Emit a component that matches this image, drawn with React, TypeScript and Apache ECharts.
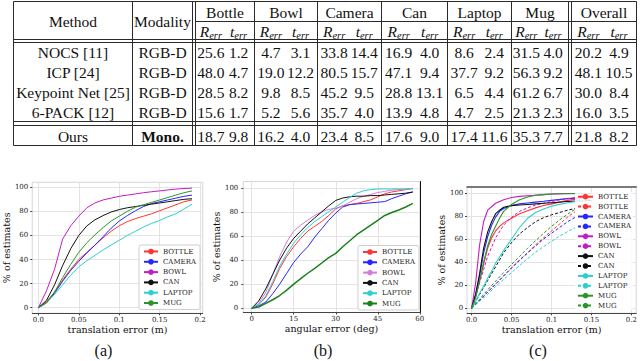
import React, { useEffect, useRef } from "react";
import * as echarts from "echarts";

// ---------------- Table data ----------------
const categories = ["Bottle", "Bowl", "Camera", "Can", "Laptop", "Mug"];
const overallLabel = "Overall";
const methods = ["NOCS [11]", "ICP [24]", "Keypoint Net [25]", "6-PACK [12]"];
const modalities = ["RGB-D", "RGB-D", "RGB-D", "RGB-D"];
const nocsVals = [25.6, 1.2, 4.7, 3.1, 33.8, 14.4, 16.9, 4.0, 8.6, 2.4, 31.5, 4.0, 20.2, 4.9];
const icpVals = [48.0, 4.7, 19.0, 12.2, 80.5, 15.7, 47.1, 9.4, 37.7, 9.2, 56.3, 9.2, 48.1, 10.5];
const keypointVals = [28.5, 8.2, 9.8, 8.5, 45.2, 9.5, 28.8, 13.1, 6.5, 4.4, 61.2, 6.7, 30.0, 8.4];
const sixPackVals = [15.6, 1.7, 5.2, 5.6, 35.7, 4.0, 13.9, 4.8, 4.7, 2.5, 21.3, 2.3, 16.0, 3.5];
const oursLabel = "Ours";
const oursModality = "Mono.";
const oursVals = [18.7, 9.8, 16.2, 4.0, 23.4, 8.5, 17.6, 9.0, 17.4, 11.6, 35.3, 7.7, 21.8, 8.2];
const methodRows = [nocsVals, icpVals, keypointVals, sixPackVals];

// ---------------- Chart data ----------------
const objNames = ["BOTTLE", "CAMERA", "BOWL", "CAN", "LAPTOP", "MUG"];

// (a) translation error
const xA = [0, 0.01, 0.02, 0.03, 0.04, 0.05, 0.06, 0.07, 0.08, 0.09, 0.1, 0.11, 0.12, 0.13, 0.14, 0.15, 0.16, 0.17, 0.18, 0.19];
const aBottle = [0, 5, 13, 23, 32, 40, 46, 52, 58, 63.5, 68, 71.5, 74, 76, 78, 80.5, 83, 85.5, 88, 89.5];
const aCamera = [0, 4, 12, 22, 31, 38.5, 45.5, 52, 59, 66, 72, 76.5, 80.5, 84, 86.5, 88, 89.5, 91, 92.5, 93.5];
const aBowl = [0, 14, 32, 57, 68, 76, 83, 87, 89.5, 91, 92.5, 93.5, 94.5, 95.5, 96.3, 97, 97.8, 98.5, 99, 99.3];
const aCan = [0, 6, 19, 35, 49, 60, 68, 73, 76.5, 79.5, 81.5, 83, 84, 85, 86, 87, 88, 89, 90, 90.5];
const aLaptop = [0, 4, 11, 19, 27, 34, 39, 43.5, 48, 52, 56, 60, 63.5, 67, 70, 72.5, 75.5, 78, 82, 86];
const aMug = [0, 4, 13, 25, 36, 46, 54, 60.5, 66.5, 72, 76, 80, 83.5, 85.5, 87.5, 89.5, 91.5, 93.5, 95.5, 97];

// (b) angular error
const xB = [0, 2.5, 5, 7.5, 10, 12.5, 15, 17.5, 20, 22.5, 25, 27.5, 30, 32.5, 35, 37.5, 40, 42.5, 45, 47.5, 50, 52.5, 55, 57.5];
const bBottle = [0, 3, 9, 20, 33, 43, 51, 58, 64, 68, 72, 77, 82.5, 85, 86, 87, 88.5, 90, 92.5, 95, 96.5, 97.5, 98.5, 99.5];
const bCamera = [0, 2, 5, 12, 20, 29, 38, 45, 51, 59, 66, 73, 79, 84, 86, 86.5, 87, 87.5, 88, 88.5, 91, 93, 95, 96.5];
const bBowl = [0, 4, 13, 28, 43, 55, 64, 69, 73, 77, 80, 82, 83, 85, 88, 91, 93, 94.5, 96, 97, 98, 98.5, 99, 99.5];
const bCan = [0, 6, 16, 28, 40, 50, 58, 64, 70, 75, 80, 85, 89.5, 91.5, 92.5, 93, 93, 93.5, 93.5, 94, 94.5, 95, 95.5, 96.5];
const bLaptop = [0, 3, 10, 22, 35, 45, 54, 61, 67, 72, 76, 80, 84, 88, 92, 95.5, 97.5, 98.5, 99, 99, 99, 99, 99, 99];
const bMug = [0, 1, 4, 7, 10.5, 15, 20, 24.5, 29, 33, 37.5, 42, 45.5, 51, 56, 61, 65, 69, 73, 77, 79.5, 81.5, 84, 87];

// (c) translation error, solid and dashed variants
const xCs = [0, 0.005, 0.01, 0.015, 0.02, 0.025, 0.03, 0.035, 0.04, 0.05, 0.06, 0.07, 0.08, 0.09, 0.1, 0.12, 0.15];
const cBottleS = [0, 10, 24, 38, 52, 61, 67, 71, 74, 78, 82, 84.5, 87, 89, 90.5, 93.5, 96.5];
const cCameraS = [0, 12, 28, 48, 62, 72, 79, 84, 86.5, 89, 90.5, 91.3, 92, 92.7, 93.5, 95, 96.5];
const cBowlS = [0, 22, 55, 75, 85, 88, 91, 92.5, 94, 96, 97, 97.5, 98, 98.5, 99, 99.5, 99.5];
const cCanS = [0, 12, 30, 52, 66, 75, 82, 85, 87.5, 89, 89.5, 90, 90.5, 91, 91.5, 92.5, 93.5];
const cLaptopS = [0, 6, 13, 19, 26, 32, 39, 44.5, 50, 60, 70, 78, 83, 86, 88.5, 91.5, 94.5];
const cMugS = [0, 9, 24, 40, 54, 64, 71, 78, 84, 90, 94, 96.5, 98, 98.5, 99, 99.3, 99.5];
const xCd = [0, 0.01, 0.02, 0.03, 0.04, 0.05, 0.06, 0.07, 0.08, 0.09, 0.1, 0.11, 0.12, 0.13];
const cBottleD = [0, 7, 14, 21, 28, 35, 42, 48, 55, 61, 67, 73, 79, 84];
const cCameraD = [0, 7, 14, 21, 28, 35, 41.5, 48, 54, 60, 65, 70, 75, 79];
const cBowlD = [0, 22, 45, 61, 72, 79, 84, 87, 89.5, 91, 92.5, 94, 95, 96];
const cCanD = [0, 12, 24, 36, 48, 57, 64.5, 70, 75, 78.5, 81, 83, 85, 86.5];
const cLaptopD = [0, 6, 12, 19, 25, 31, 37, 43, 48.5, 53.5, 58, 62.5, 66.5, 70];
const cMugD = [0, 8, 16, 23.5, 31, 38, 45, 52, 58.5, 65, 71, 76.5, 81.5, 86];

// tick labels
const xTicksA = [0, 0.05, 0.1, 0.15, 0.2];
const xTickLabelsA = ["0.0", "0.05", "0.1", "0.15", "0.2"];
const xTicksB = [0, 15, 30, 45, 60];
const xTickLabelsB = ["0", "15", "30", "45", "60"];
const yTicks = [0, 20, 40, 60, 80, 100];
const yTickLabels = ["0", "20", "40", "60", "80", "100"];
const panelLabels = ["(a)", "(b)", "(c)"];

// ---------------- styles ----------------
const SERIF = "'Liberation Serif', 'Times New Roman', serif";
const PLOTFONT = "'DejaVu Serif', serif";
const colorsA: Record<string, string> = {
  BOTTLE: "#ff3535",
  CAMERA: "#2626ff",
  BOWL: "#c41cc4",
  CAN: "#111111",
  LAPTOP: "#2ccfcf",
  MUG: "#2a962a",
};
const colorsB: Record<string, string> = { ...colorsA, BOWL: "#d57cdd", MUG: "#1c801c" };

function labelFmt(ticks: number[], labels: string[]) {
  return (v: number) => {
    const i = ticks.findIndex((t) => Math.abs(t - v) < 1e-9);
    return i >= 0 ? labels[i] : "";
  };
}

function buildTable(): any[] {
  const els: any[] = [];
  const stroke = "#2a2a2a";
  const hl = (x1: number, x2: number, y: number) =>
    els.push({ type: "line", shape: { x1, y1: y, x2, y2: y }, style: { stroke, lineWidth: 1 } });
  const vl = (x: number, y1: number, y2: number) =>
    els.push({ type: "line", shape: { x1: x, y1, x2: x, y2 }, style: { stroke, lineWidth: 1 } });
  const txt = (s: string, x: number, y: number, extra: any = {}) =>
    els.push({
      type: "text",
      style: { text: s, x, y, align: "center", verticalAlign: "middle", fontFamily: SERIF, fontSize: 15.5, fill: "#111", ...extra },
    });

  const left = 13.5, right = 636.5;
  const colMethodEnd = 132.5;
  const dbl1 = [192.5, 195.5];
  const catEdges = [195.5, 254.5, 317.5, 381.5, 447.5, 511.5, 568.5];
  const dbl2 = [568.5, 571.5];
  const overallEdges = [571.5, 636.5];
  const yTop = 1.5, yMid = 21.5, yHeadBot = 39.5, yDataTop = 42.5, yDataBot = 121.5, yOursTop = 125.5, yOursBot = 145.5;

  // horizontal rules
  hl(left, right, yTop);
  hl(dbl1[1], right, yMid);
  hl(left, right, yHeadBot);
  hl(left, right, yDataTop);
  hl(left, right, yDataBot);
  hl(left, right, yOursTop);
  hl(left, right, yOursBot);
  // vertical rules
  [left, colMethodEnd, dbl1[0], ...catEdges, dbl2[1], right].forEach((x) => vl(x, yTop, yOursBot));

  // header
  txt("Method", (left + colMethodEnd) / 2, (yTop + yHeadBot) / 2 + 0.5);
  txt("Modality", (colMethodEnd + dbl1[0]) / 2, (yTop + yHeadBot) / 2 + 0.5);
  const colSpans: [number, number][] = [];
  for (let i = 0; i < categories.length; i++) colSpans.push([catEdges[i], catEdges[i + 1]]);
  colSpans.push([overallEdges[0], overallEdges[1]]);
  const heads = [...categories, overallLabel];
  const rich = {
    m: { fontFamily: SERIF, fontSize: 15.5, fontStyle: "italic", lineHeight: 18, verticalAlign: "middle", fill: "#111" },
    s: { fontFamily: SERIF, fontSize: 10.5, fontStyle: "italic", lineHeight: 10, verticalAlign: "bottom", fill: "#111" },
  };
  colSpans.forEach(([a, b], i) => {
    const w = b - a;
    txt(heads[i], (a + b) / 2, (yTop + yMid) / 2 + 1);
    els.push({ type: "text", style: { text: "{m|R}{s|err}", rich, x: a + w * 0.26, y: (yMid + yHeadBot) / 2 + 1, align: "center", verticalAlign: "middle" } });
    els.push({ type: "text", style: { text: "{m|t}{s|err}", rich, x: a + w * 0.73, y: (yMid + yHeadBot) / 2 + 1, align: "center", verticalAlign: "middle" } });
  });

  const rowH = (yDataBot - yDataTop) / methods.length;
  const drawRow = (name: string, mod: string, vals: number[], y: number, bold: boolean) => {
    txt(name, (left + colMethodEnd) / 2, y);
    txt(mod, (colMethodEnd + dbl1[0]) / 2, y, bold ? { fontWeight: "bold" } : {});
    colSpans.forEach(([a, b], i) => {
      const w = b - a;
      txt(vals[2 * i].toFixed(1), a + w * 0.26, y);
      txt(vals[2 * i + 1].toFixed(1), a + w * 0.73, y);
    });
  };
  methods.forEach((m, r) => drawRow(m, modalities[r], methodRows[r], yDataTop + rowH * (r + 0.5) + 0.5, false));
  drawRow(oursLabel, oursModality, oursVals, (yOursTop + yOursBot) / 2 + 0.5, true);

  // panel labels
  const px = [103.5, 323, 538];
  panelLabels.forEach((l, i) =>
    els.push({ type: "text", style: { text: l, x: px[i], y: 350, align: "center", verticalAlign: "middle", fontFamily: SERIF, fontSize: 16, fill: "#111" } })
  );
  return els;
}

const zip = (xs: number[], ys: number[]) => xs.map((x, i) => [x, ys[i]]);

export default function App() {
  const ref = useRef<HTMLDivElement>(null);
  useEffect(() => {
    if (!ref.current) return;
    const chart = echarts.init(ref.current, undefined, { renderer: "svg" });

    const tickLabelStyle = { fontFamily: PLOTFONT, fontSize: 7, color: "#222" };
    const nameStyle = { fontFamily: PLOTFONT, fontSize: 9.5, color: "#111" };
    const gridLine = { show: true, lineStyle: { color: "#e3e3e3", width: 1 } };

    const mkX = (gi: number, min: number, max: number, ticks: number[], labels: string[], name: string, gap: number) => ({
      type: "value",
      gridIndex: gi,
      min,
      max,
      name,
      nameLocation: "middle",
      nameGap: gap,
      nameTextStyle: nameStyle,
      axisLine: { show: true, onZero: false, lineStyle: { color: "#444", width: 1 } },
      axisTick: { show: true, customValues: ticks, length: 2, lineStyle: { color: "#444" } },
      axisLabel: { customValues: ticks, formatter: labelFmt(ticks, labels), margin: 3, ...tickLabelStyle },
      splitLine: gridLine,
    });
    const mkY = (gi: number, min: number, max: number, gap: number, margin: number) => ({
      type: "value",
      gridIndex: gi,
      min,
      max,
      name: "% of estimates",
      nameLocation: "middle",
      nameGap: gap,
      nameTextStyle: nameStyle,
      axisLine: { show: false, onZero: false },
      axisTick: { show: true, customValues: yTicks, length: 2, lineStyle: { color: "#444" } },
      axisLabel: { customValues: yTicks, formatter: labelFmt(yTicks, yTickLabels), margin, ...tickLabelStyle },
      splitLine: gridLine,
    });

    const series: any[] = [];
    const addLine = (name: string, xi: number, data: number[][], color: string, width = 1, dashed = false) =>
      series.push({
        type: "line",
        name,
        xAxisIndex: xi,
        yAxisIndex: xi,
        data,
        symbol: "none",
        smooth: false,
        lineStyle: { color, width, type: dashed ? [3, 2] : "solid" },
        itemStyle: { color },
        emphasis: { disabled: true },
        z: 3,
      });

    const aData: Record<string, number[]> = { BOTTLE: aBottle, CAMERA: aCamera, BOWL: aBowl, CAN: aCan, LAPTOP: aLaptop, MUG: aMug };
    const bData: Record<string, number[]> = { BOTTLE: bBottle, CAMERA: bCamera, BOWL: bBowl, CAN: bCan, LAPTOP: bLaptop, MUG: bMug };
    const cS: Record<string, number[]> = { BOTTLE: cBottleS, CAMERA: cCameraS, BOWL: cBowlS, CAN: cCanS, LAPTOP: cLaptopS, MUG: cMugS };
    const cD: Record<string, number[]> = { BOTTLE: cBottleD, CAMERA: cCameraD, BOWL: cBowlD, CAN: cCanD, LAPTOP: cLaptopD, MUG: cMugD };

    objNames.forEach((n) => addLine(n + "#a", 0, zip(xA, aData[n]), colorsA[n]));
    objNames.forEach((n) => addLine(n + "#b", 1, zip(xB, bData[n]), colorsB[n], n === "MUG" ? 1.5 : 1));
    const cNames: string[] = [];
    objNames.forEach((n) => {
      addLine(n + "#c", 2, zip(xCs, cS[n]), colorsA[n], 1.1);
      addLine(n + "#cd", 2, zip(xCd, cD[n]), colorsA[n], 1, true);
      cNames.push(n + "#c", n + "#cd");
    });

    const legendText = { fontFamily: PLOTFONT, fontSize: 7, color: "#222" };
    const legendBase = {
      orient: "vertical",
      align: "left",
      itemWidth: 14,
      itemHeight: 7,
      selectedMode: false,
      textStyle: legendText,
      formatter: (n: string) => n.split("#")[0],
    };

    const option: any = {
      animation: false,
      backgroundColor: "#fff",
      graphic: buildTable(),
      grid: [
        { left: 27, top: 182.3, width: 175.7, height: 131, show: true, borderColor: "#d6d6d6", borderWidth: 1, backgroundColor: "#fff" },
        { left: 243.3, top: 181.5, width: 176.5, height: 131, show: true, borderColor: "#d6d6d6", borderWidth: 1, backgroundColor: "#fff" },
        { left: 467, top: 187, width: 173, height: 126.3, show: true, borderColor: "#d6d6d6", borderWidth: 1, backgroundColor: "#fff" },
      ],
      xAxis: [
        mkX(0, -0.00756, 0.2032, xTicksA, xTickLabelsA, "translation error (m)", 10),
        mkX(1, -3, 60, xTicksB, xTickLabelsB, "angular error (deg)", 10),
        mkX(2, -0.0058, 0.206, xTicksA, xTickLabelsA, "translation error (m)", 10),
        {
          type: "value", gridIndex: 2, position: "top", min: -0.0058, max: 0.206,
          axisLine: { show: true, onZero: false, lineStyle: { color: "#555", width: 1.5 } },
          axisTick: { show: false }, axisLabel: { show: false }, splitLine: { show: false },
        },
      ],
      yAxis: [
        mkY(0, -4.65, 104.15, 17.5, 4),
        mkY(1, -3.6, 105.2, 17.8, 5),
        mkY(2, -4.33, 105.1, 18.2, 3.7),
        {
          type: "value", gridIndex: 1, position: "right", min: -3.6, max: 105.2,
          axisLine: { show: true, onZero: false, lineStyle: { color: "#111", width: 1 } },
          axisTick: { show: false }, axisLabel: { show: false }, splitLine: { show: false },
        },
      ],
      legend: [
        {
          ...legendBase,
          data: objNames.map((n) => n + "#a"),
          left: 139, top: 245,
          padding: [3, 4, 3, 4],
          itemGap: 3.3,
          backgroundColor: "#fff", borderColor: "#cfcfcf", borderWidth: 1, borderRadius: 2,
        },
        {
          ...legendBase,
          data: objNames.map((n) => n + "#b"),
          left: 358, top: 245.5,
          padding: [3, 4, 3, 4],
          itemGap: 3.3,
          backgroundColor: "#fff", borderColor: "#cfcfcf", borderWidth: 1, borderRadius: 2,
        },
        {
          ...legendBase,
          data: cNames,
          left: 575, top: 192.2,
          itemWidth: 15,
          padding: [1, 2, 1, 2],
          itemGap: 2.9,
          backgroundColor: "rgba(255,255,255,0.85)",
        },
      ],
      series,
    };
    chart.setOption(option);
    return () => chart.dispose();
  }, []);

  return <div ref={ref} style={{ position: "absolute", left: 0, top: 0, width: 640, height: 361 }} />;
}
